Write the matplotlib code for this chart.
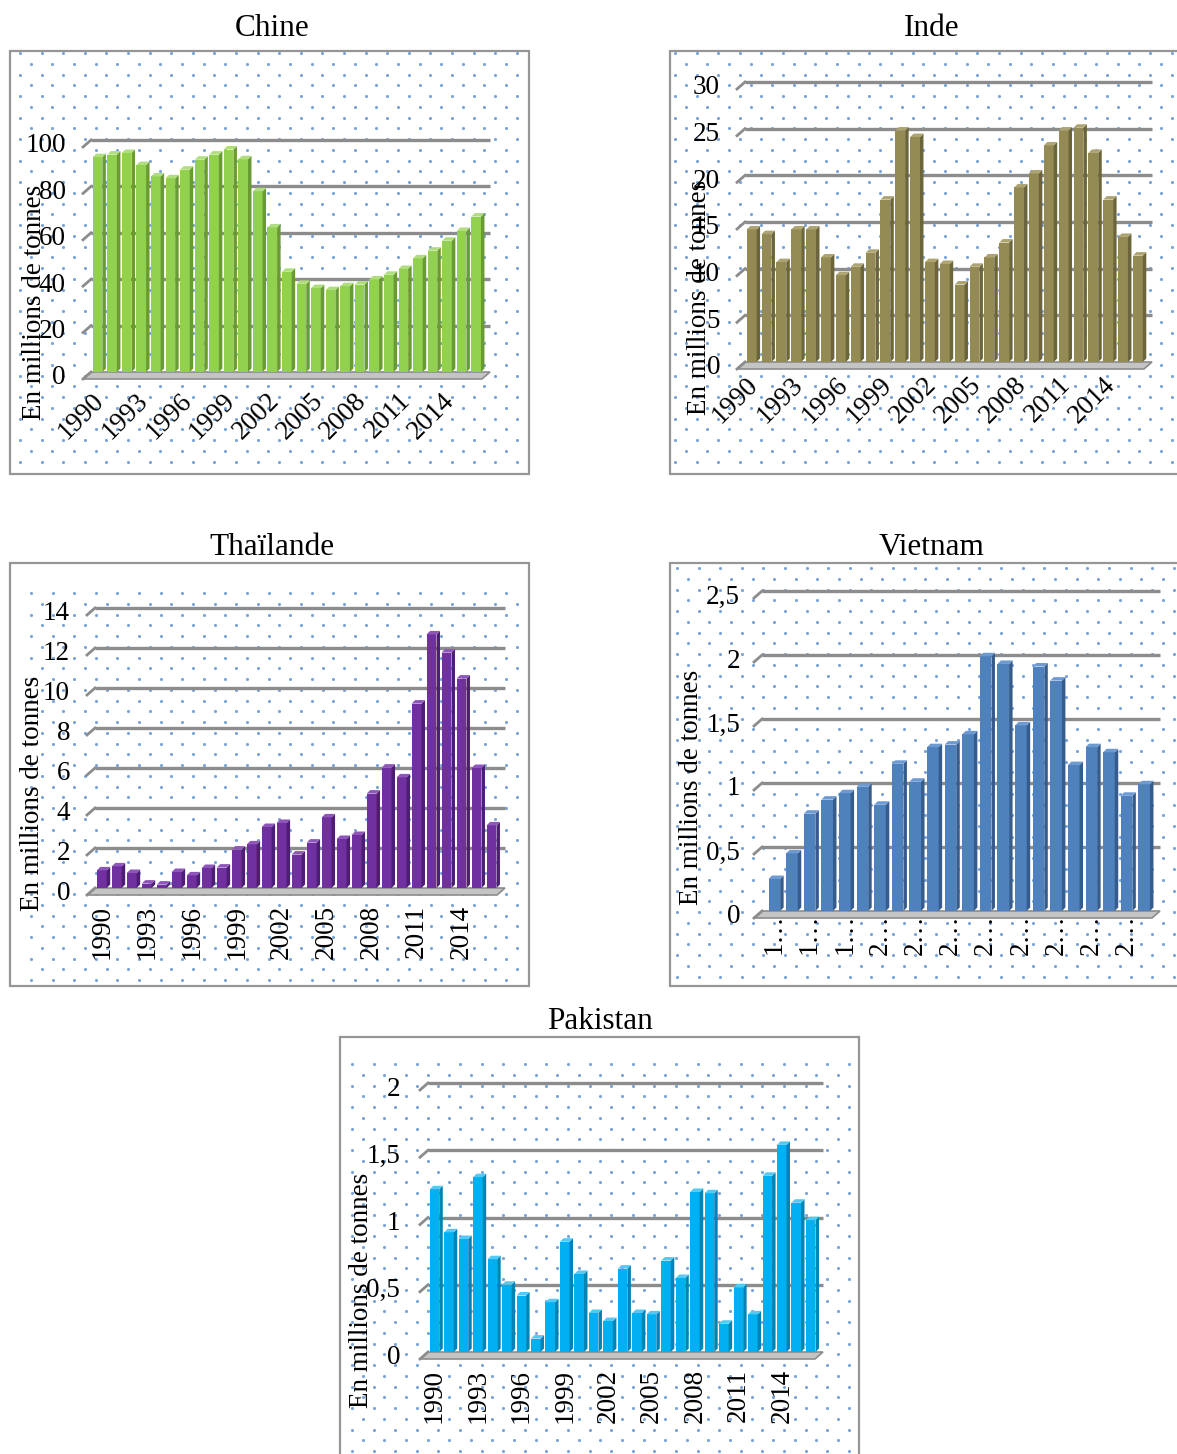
import numpy as np
import matplotlib
matplotlib.use("Agg")
import matplotlib.pyplot as plt
from matplotlib.patches import Polygon, Rectangle

# ---------------------------------------------------------------- data
years = list(range(1990, 2017))
years_vn = list(range(1995, 2017))

chine = [92.6, 93.7, 94.4, 89.2, 84.3, 83.5, 87.2, 91.5, 93.7, 95.9, 91.7, 77.9, 62.3,
         43.2, 38.0, 36.2, 35.3, 37.0, 37.7, 39.9, 41.9, 44.4, 49.0, 52.3, 56.6, 60.8, 67.0]
inde = [14.2, 13.7, 10.7, 14.2, 14.2, 11.2, 9.3, 10.2, 11.7, 17.4, 24.8, 24.1, 10.7,
        10.5, 8.3, 10.2, 11.2, 12.8, 18.7, 20.2, 23.2, 24.8, 25.1, 22.4, 17.4, 13.4, 11.4]
thailande = [0.88, 1.08, 0.75, 0.22, 0.17, 0.80, 0.63, 1.00, 1.02, 1.92, 2.18, 3.05, 3.25,
             1.67, 2.27, 3.53, 2.45, 2.65, 4.72, 6.02, 5.53, 9.22, 12.68, 11.77, 10.47, 6.00, 3.13]
vietnam = [0.25, 0.45, 0.76, 0.87, 0.92, 0.97, 0.83, 1.15, 1.01, 1.28, 1.30, 1.38, 1.99,
           1.93, 1.45, 1.91, 1.80, 1.14, 1.28, 1.24, 0.90, 0.99]
pakistan = [1.21, 0.89, 0.84, 1.30, 0.69, 0.50, 0.42, 0.10, 0.37, 0.82, 0.58, 0.29, 0.23,
            0.62, 0.29, 0.28, 0.68, 0.55, 1.19, 1.18, 0.21, 0.48, 0.28, 1.31, 1.54, 1.11, 0.98]

year_labels = ["1990", "1993", "1996", "1999", "2002", "2005", "2008", "2011", "2014"]
vn_labels = ["1…", "1…", "1…", "2…", "2…", "2…", "2…", "2…", "2…", "2…", "2…"]

ticks_chine = [0, 20, 40, 60, 80, 100]
ticks_inde = [0, 5, 10, 15, 20, 25, 30]
ticks_thai = [0, 2, 4, 6, 8, 10, 12, 14]
ticks_vn = [0, 0.5, 1, 1.5, 2, 2.5]
ticks_pk = [0, 0.5, 1, 1.5, 2]

ylabel = "En millions de tonnes"

# ---------------------------------------------------------------- styling
plt.rcParams["font.family"] = ["Liberation Serif", "DejaVu Serif"]
W, H = 1177, 1454
TICK_FS = 19.5
TITLE_FS = 22.5
GRID_C = "#8C8C8C"
DOT_C = "#7AA3DA"
FRAME_C = "#969696"

fig = plt.figure(figsize=(W / 100, H / 100), dpi=100)
fig.patch.set_facecolor("white")

# full-figure overlay in pixel coordinates for frames, dots and titles
ov = fig.add_axes([0, 0, 1, 1], zorder=0)
ov.set_xlim(0, W)
ov.set_ylim(H, 0)
ov.axis("off")


def px_rect(x0, y0, x1, y1):
    return [x0 / W, 1 - y1 / H, (x1 - x0) / W, (y1 - y0) / H]


def fmt(v):
    s = ("%g" % v)
    return s.replace(".", ",")


def frame_with_dots(fx0, fy0, fx1, fy1, dx0, dy0, dy1):
    rect = Rectangle((fx0, fy0), fx1 - fx0, fy1 - fy0, facecolor="white",
                     edgecolor=FRAME_C, lw=1.6, zorder=0)
    ov.add_patch(rect)
    sx, sy = 21.6, 10.75
    xs, ys = [], []
    for k, y in enumerate(np.arange(dy0, dy1, sy)):
        off = 0 if k % 2 == 0 else sx / 2
        for x in np.arange(dx0 + off, fx1 - 3, sx):
            xs.append(x)
            ys.append(y)
    sc = ov.scatter(xs, ys, s=5, color=DOT_C, linewidths=0, zorder=1)
    sc.set_clip_path(rect)


def panel(values, ticks, frame, dots, wall, xpad, title_xy, ylab_xy,
          label_idx, labels, rot, label_dy, colors, bar_w=0.66, tick_gap=17):
    fx0, fy0, fx1, fy1 = frame
    frame_with_dots(fx0, fy0, fx1, fy1, *dots)
    ov.text(title_xy[0], title_xy[1], title_xy[2], fontsize=TITLE_FS,
            ha="center", va="baseline", zorder=2)
    ov.text(ylab_xy[0], ylab_xy[1], ylabel, fontsize=TICK_FS, rotation=90,
            ha="center", va="center", zorder=5)

    wx0, wx1, y_zero, y_top = wall
    n = len(values)
    ymax = ticks[-1]
    ax = fig.add_axes(px_rect(wx0, y_top, wx1, y_zero), zorder=3)
    ax.patch.set_alpha(0)
    ax.axis("off")
    xmin, xmax = -xpad[0], n - 1 + xpad[1]
    ax.set_xlim(xmin, xmax)
    ax.set_ylim(0, ymax)
    ppx = (wx1 - wx0) / (xmax - xmin)
    ppy = (y_zero - y_top) / ymax

    # wall depth (back wall vs front edge) and bar depth, in data units
    wdx, wdy = 8 / ppx, 7 / ppy
    bdx, bdy = 3.5 / ppx, 3.5 / ppy

    # floor
    ax.add_patch(Polygon([(xmin, 0), (xmax, 0), (xmax - wdx, -wdy), (xmin - wdx, -wdy)],
                         closed=True, facecolor="#C4C4C4", edgecolor="#8C8C8C",
                         lw=1.2, clip_on=False, zorder=1))
    # gridlines on the back wall with their side-wall stubs
    for t in ticks:
        if t > 0:
            ax.plot([xmin, xmax], [t, t], color=GRID_C, lw=2.4,
                    solid_capstyle="butt", clip_on=False, zorder=1)
        ax.plot([xmin - wdx, xmin], [t - wdy, t], color=GRID_C, lw=2.0,
                clip_on=False, zorder=1)
        ax.text(xmin - wdx - tick_gap / ppx, t - wdy + 1 / ppy, fmt(t), fontsize=TICK_FS,
                ha="right", va="center", clip_on=False, zorder=4)

    front, side, top = colors
    x = np.arange(n)
    ax.bar(x, values, width=bar_w, color=front, edgecolor="none", zorder=3)
    for xi, v in zip(x, values):
        r = xi + bar_w / 2
        l = xi - bar_w / 2
        ax.add_patch(Polygon([(r, 0), (r + bdx, bdy), (r + bdx, v + bdy), (r, v)],
                             closed=True, facecolor=side, edgecolor="none", zorder=3))
        ax.add_patch(Polygon([(l, v), (l + bdx, v + bdy), (r + bdx, v + bdy), (r, v)],
                             closed=True, facecolor=top, edgecolor="none", zorder=3))

    ly = -wdy - label_dy / ppy
    for i, lab in zip(label_idx, labels):
        if rot == 45:
            ax.text(i + 3 / ppx, ly, lab, fontsize=TICK_FS, rotation=45,
                    rotation_mode="anchor", ha="right", va="center", clip_on=False)
        else:
            ax.text(i, ly, lab, fontsize=TICK_FS, rotation=90,
                    rotation_mode="anchor", ha="right", va="center", clip_on=False)
    return ax


idx3 = list(range(0, 27, 3))
idx2 = list(range(0, 22, 2))

panel(chine, ticks_chine, frame=(10, 51, 529, 474), dots=(20, 53, 472),
      wall=(91, 490, 372, 140), xpad=(0.45, 0.95), title_xy=(272, 36, "Chine"),
      ylab_xy=(35, 302), label_idx=idx3, labels=year_labels, rot=45, label_dy=18,
      colors=("#92D050", "#6A9B33", "#B0DE7E"))

panel(inde, ticks_inde, frame=(670, 51, 1182, 474), dots=(675, 53, 472),
      wall=(745, 1152, 362, 82), xpad=(0.45, 0.95), title_xy=(932, 36, "Inde"),
      ylab_xy=(700, 297), label_idx=idx3, labels=year_labels, rot=45, label_dy=12,
      colors=("#948A54", "#6C643A", "#ADA472"))

panel(thailande, ticks_thai, frame=(10, 563, 529, 986), dots=(31, 593, 982),
      wall=(95, 505, 888, 608), xpad=(0.45, 0.9), title_xy=(272, 555, "Thaïlande"),
      ylab_xy=(33, 793), label_idx=idx3, labels=year_labels, rot=90, label_dy=10,
      colors=("#7030A0", "#4D1E73", "#8E55BA"))

panel(vietnam, ticks_vn, frame=(670, 563, 1182, 986), dots=(677, 568, 982),
      wall=(762, 1160, 911, 591), xpad=(0.7, 0.9), title_xy=(932, 555, "Vietnam"),
      ylab_xy=(692, 787), label_idx=idx2, labels=vn_labels, rot=90, label_dy=-4,
      colors=("#4F81BD", "#365C8C", "#6E9AD2"), tick_gap=14)

panel(pakistan, ticks_pk, frame=(340, 1037, 859, 1470), dots=(352, 1064, 1454),
      wall=(428, 823, 1352, 1083), xpad=(0.45, 0.85), title_xy=(600, 1029, "Pakistan"),
      ylab_xy=(362, 1290), label_idx=idx3, labels=year_labels, rot=90, label_dy=10,
      colors=("#00B0F0", "#0083B5", "#52CAF5"), tick_gap=20)

fig.savefig("out.png", dpi=100, facecolor="white")
